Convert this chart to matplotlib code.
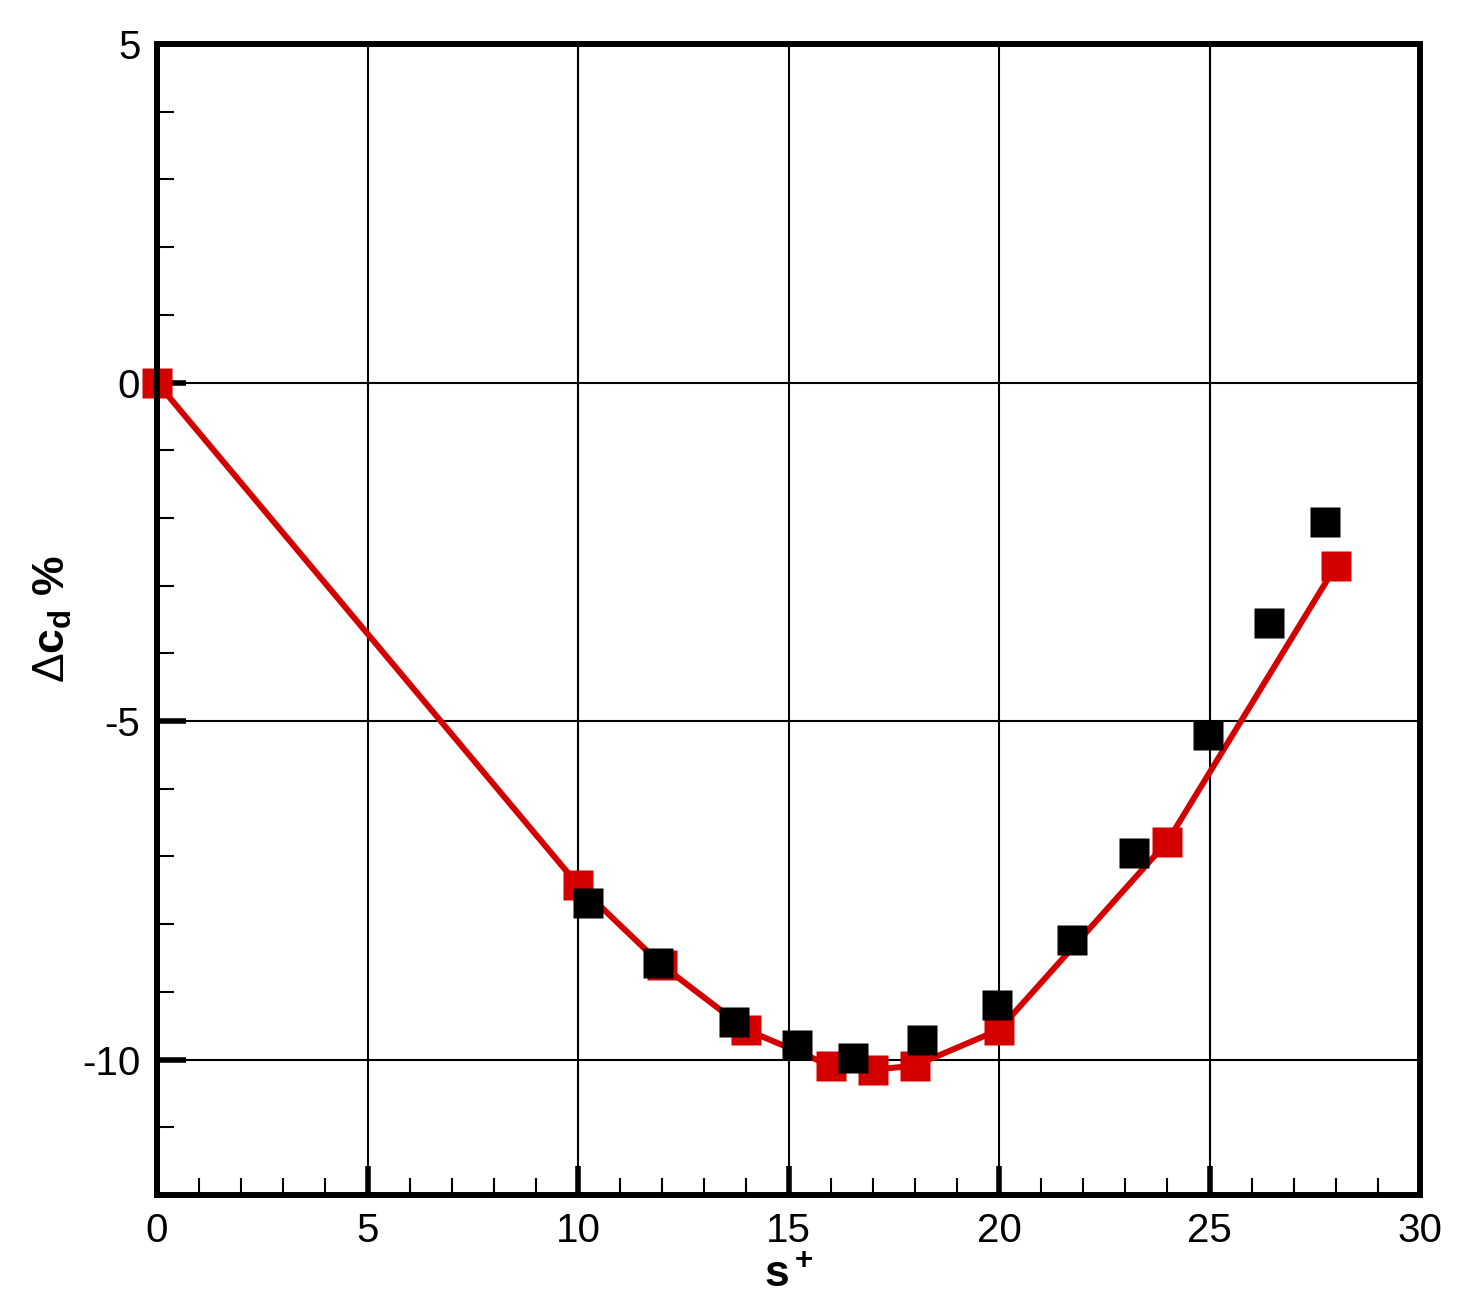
import matplotlib
matplotlib.use("Agg")
import matplotlib.pyplot as plt
from matplotlib.ticker import MultipleLocator

plt.rcParams['font.family'] = ['Liberation Sans', 'DejaVu Sans']
plt.rcParams['mathtext.fontset'] = 'custom'
plt.rcParams['mathtext.rm'] = 'Liberation Sans'
plt.rcParams['mathtext.bf'] = 'Liberation Sans:bold'
plt.rcParams['mathtext.it'] = 'Liberation Sans:italic'
plt.rcParams['axes.unicode_minus'] = False

# simulation (red, connected) and reference data (black squares)
sim_s = [0, 10, 12, 14, 16, 17, 18, 20, 24, 28]
sim_dcd = [0.0, -7.42, -8.61, -9.56, -10.09, -10.15, -10.09, -9.56, -6.78, -2.71]

ref_s = [10.24, 11.9, 13.7, 15.2, 16.53, 18.17, 19.95, 21.73, 23.2, 24.96, 26.41, 27.74]
ref_dcd = [-7.68, -8.57, -9.44, -9.79, -9.97, -9.71, -9.19, -8.24, -6.95, -5.21, -3.55, -2.06]

red = '#d40000'

fig = plt.figure(figsize=(14.57, 13.12), dpi=100)
ax = fig.add_axes([157 / 1457, 1 - 1195 / 1312, (1420 - 157) / 1457, (1195 - 44) / 1312])

ax.plot(sim_s, sim_dcd, color=red, lw=4.3, marker='s', ms=21.5,
        mec='none', clip_on=False, zorder=2)
ax.plot(ref_s, ref_dcd, ls='none', color='black', marker='s', ms=21.5,
        mec='none', clip_on=False, zorder=2.2)

ax.set_xlim(0, 30)
ax.set_ylim(-12, 5)
ax.xaxis.set_major_locator(MultipleLocator(5))
ax.xaxis.set_minor_locator(MultipleLocator(1))
ax.yaxis.set_major_locator(MultipleLocator(5))
ax.yaxis.set_minor_locator(MultipleLocator(1))

ax.grid(True, which='major', color='black', lw=1.5)
for sp in ax.spines.values():
    sp.set_linewidth(4.3)

ax.tick_params(which='both', direction='in', top=False, right=False,
               labelsize=29, color='black')
ax.tick_params(which='major', length=21, width=4, pad=12)
ax.tick_params(which='minor', length=12, width=1.5)

ax.set_xlabel(r'$\mathbf{s^+}$', fontsize=32, labelpad=4)
ax.set_ylabel(r'$\Delta\mathbf{c_d}$ %', fontsize=32, fontweight='bold', labelpad=6)

fig.savefig('out.png', dpi=100)
